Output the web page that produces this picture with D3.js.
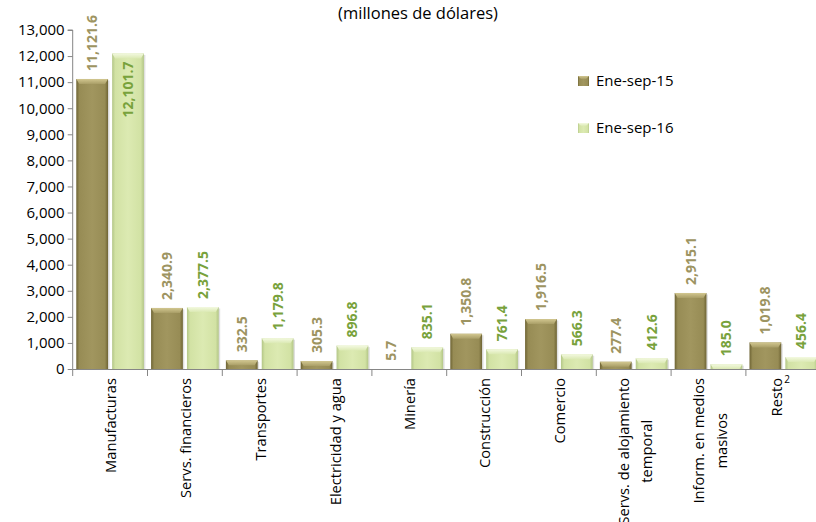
<!DOCTYPE html>
<html><head><meta charset="utf-8">
<script src="https://cdn.jsdelivr.net/npm/d3@7"></script>
<style>
body{margin:0;background:#fff;}
svg{font-family:"Open Sans",sans-serif;}
</style></head>
<body><svg id="c" width="816" height="522"></svg>
<script>
const categories = ["Manufacturas","Servs. financieros","Transportes","Electricidad y agua","Minería","Construcción","Comercio","Servs. de alojamiento temporal","Inform. en medios masivos","Resto"];
const categoryLines = [["Manufacturas"],["Servs. financieros"],["Transportes"],["Electricidad y agua"],["Minería"],["Construcción"],["Comercio"],["Servs. de alojamiento","temporal"],["Inform. en medios","masivos"],["Resto"]];
const categoryNotes = ["","","","","","","","","","2"];
const seriesNames = ["Ene-sep-15","Ene-sep-16"];
const values15 = [11121.6,2340.9,332.5,305.3,5.7,1350.8,1916.5,277.4,2915.1,1019.8];
const values16 = [12101.7,2377.5,1179.8,896.8,835.1,761.4,566.3,412.6,185.0,456.4];
const yTicks = [0,1000,2000,3000,4000,5000,6000,7000,8000,9000,10000,11000,12000,13000];
const title = "(millones de dólares)";

const svg = d3.select("#c");
const y = d3.scaleLinear().domain([0,13000]).range([369,30]);
const x = d3.scaleBand().domain(categories).range([72.7,820.7]).padding(0);
const xi = d3.scaleBand().domain(seriesNames).range([0,x.bandwidth()]).paddingInner(0.114).paddingOuter(0.1);
const fmt = d3.format(",.1f");

const pal = {
  "Ene-sep-15": {edge:"#6e6434", body:"#978c55", mid:"#a1965f", top1:"#d2c790", top2:"#a99e67", label:"#9d9461"},
  "Ene-sep-16": {edge:"#b3c687", body:"#d2e2a4", mid:"#dceab2", top1:"#f3f9e0", top2:"#dbe9b3", label:"#78a23c"}
};
const defs = svg.append("defs");
seriesNames.forEach((s,i)=>{
  const p = pal[s];
  const g = defs.append("linearGradient").attr("id","h"+i).attr("x1","0").attr("x2","1").attr("y1","0").attr("y2","0");
  [[0,p.edge],[0.1,p.body],[0.5,p.mid],[0.9,p.body],[1,p.edge]].forEach(([o,c])=>g.append("stop").attr("offset",o).attr("stop-color",c));
  const t = defs.append("linearGradient").attr("id","t"+i).attr("x1","0").attr("x2","0").attr("y1","0").attr("y2","1");
  [[0,p.top1],[1,p.top2]].forEach(([o,c])=>t.append("stop").attr("offset",o).attr("stop-color",c));
});

// title
svg.append("text").attr("x",418).attr("y",19).attr("text-anchor","middle")
  .attr("font-size",16.5).attr("fill","#000").text(title);

// y axis
const yAxis = d3.axisLeft(y).tickValues(yTicks).tickFormat(d3.format(",")).tickSize(5).tickPadding(3);
const ga = svg.append("g").attr("transform","translate(72.7,0)").call(yAxis);
ga.select(".domain").attr("stroke","#868686").attr("d","M-5,30H0V369");
ga.selectAll(".tick line").attr("stroke","#868686");
ga.selectAll(".tick text").attr("font-size",15).attr("fill","#000").attr("font-family","Open Sans");

// bars
const data = categories.map((c,i)=>({c, vals:[values15[i],values16[i]]}));
const gb = svg.append("g");
data.forEach(d=>{
  d.vals.forEach((v,si)=>{
    const s = seriesNames[si];
    const bx = x(d.c)+xi(s), bw = xi.bandwidth();
    const top = y(v), h = y(0)-top;
    if (h > 0.3) {
      gb.append("rect").attr("x",bx+1.5).attr("y",top+1.5).attr("width",bw).attr("height",h-1.5).attr("fill","#000").attr("opacity",0.12);
      gb.append("rect").attr("x",bx).attr("y",top).attr("width",bw).attr("height",h).attr("fill",`url(#h${si})`);
      const th = Math.min(5,h);
      gb.append("path").attr("d",`M${bx},${top}H${bx+bw}L${bx+bw-Math.min(3,bw/2)},${top+th}H${bx+Math.min(3,bw/2)}Z`).attr("fill",`url(#t${si})`);
    }
    // value label
    const lbl = gb.append("text").attr("font-size",14).attr("font-weight","bold").attr("fill",pal[s].label).text(fmt(v));
    const len = lbl.node().getComputedTextLength();
    let endY = top - 8;
    if (endY - len < 5) endY = top + 8 + len;
    lbl.attr("transform",`translate(${bx+bw/2+5},${endY}) rotate(-90)`).attr("text-anchor","start");
  });
});

// x axis
svg.append("line").attr("x1",72.7).attr("x2",816).attr("y1",369.5).attr("y2",369.5).attr("stroke","#868686");
const bounds = categories.map(c=>x(c)).concat([x.range()[1]]);
svg.selectAll(".xt").data(bounds).enter().append("line")
  .attr("x1",d=>d).attr("x2",d=>d).attr("y1",369).attr("y2",376).attr("stroke","#868686");

// x labels
categories.forEach((c,i)=>{
  const cx = x(c)+x.bandwidth()/2;
  const lines = categoryLines[i];
  const g = svg.append("g");
  if (lines.length === 1) {
    const off = categoryNotes[i] ? -1 : 6;
    g.append("text").attr("font-size",14.7).attr("fill","#000").attr("text-anchor","end")
      .attr("transform",`translate(${cx+off},378) rotate(-90)`).text(lines[0]);
    if (categoryNotes[i]) {
      svg.append("text").attr("x",cx+1).attr("y",383).attr("font-size",10).attr("fill","#000").text(categoryNotes[i]);
    }
  } else {
    const ts = lines.map(l=>g.append("text").attr("font-size",14.7).attr("fill","#000").attr("text-anchor","middle").text(l));
    const maxLen = d3.max(ts, t=>t.node().getComputedTextLength());
    const offs = [-4.5, 18];
    ts.forEach((t,k)=>t.attr("transform",`translate(${cx+offs[k]},${378+maxLen/2}) rotate(-90)`));
  }
});

// legend
seriesNames.forEach((s,i)=>{
  const ly = 76 + i*47;
  const si = i;
  svg.append("rect").attr("x",578).attr("y",ly).attr("width",11).attr("height",10).attr("fill",`url(#h${si})`);
  svg.append("path").attr("d",`M578,${ly}H589L586,${ly+3}H581Z`).attr("fill",`url(#t${si})`);
  svg.append("text").attr("x",596).attr("y",ly+10).attr("font-size",15).attr("fill","#000").text(s);
});
</script></body></html>
